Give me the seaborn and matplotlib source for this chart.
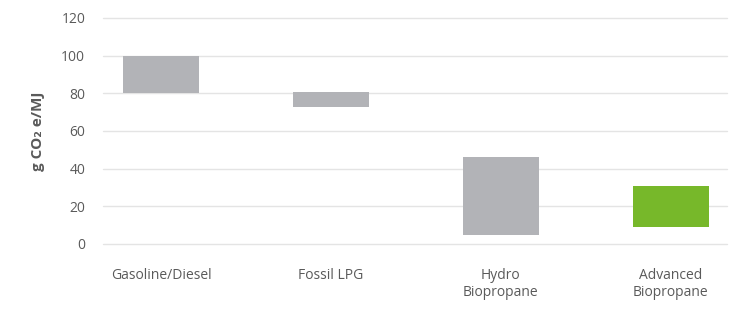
import matplotlib
matplotlib.use("Agg")
import matplotlib.pyplot as plt
import seaborn as sns

# emission ranges (g CO2e/MJ)
categories = ["Gasoline/Diesel", "Fossil LPG", "Hydro\nBiopropane", "Advanced\nBiopropane"]
low = [80, 72.5, 5, 9]
high = [100, 80.5, 46, 31]
colors = ["#b2b3b7", "#b2b3b7", "#b2b3b7", "#77b82a"]

sns.set_theme(style="whitegrid")
plt.rcParams['font.family'] = ['Open Sans', 'DejaVu Sans']

fig = plt.figure(figsize=(7.38, 3.1), dpi=100)
ax = fig.add_axes([0.14, 0.213, 0.845, 0.729])

# one floating bar per category
for cat, lo, hi, c in zip(categories, low, high, colors):
    sns.barplot(x=[cat], y=[hi - lo], order=categories, bottom=lo, color=c,
                width=0.45, saturation=1, linewidth=0, ax=ax, zorder=3)

ax.set_ylim(0, 120)
ax.set_yticks(range(0, 121, 20))
ax.set_xlim(-0.34, 3.33)
ax.grid(axis="y", color="#e4e4e4", linewidth=1)
ax.grid(axis="x", visible=False)
for line in ax.get_ygridlines():
    line.set_clip_on(False)
for s in ax.spines.values():
    s.set_visible(False)
ax.tick_params(axis="both", length=0, labelsize=10, colors="#5a5a5a")
ax.tick_params(axis="x", pad=17)
ax.tick_params(axis="y", pad=13)
ax.set_xlabel("")
ax.set_ylabel("g CO\u2082 e/MJ", fontsize=11, fontweight="bold", color="#5a5a5a", labelpad=12)

fig.savefig("out.png", dpi=100)
